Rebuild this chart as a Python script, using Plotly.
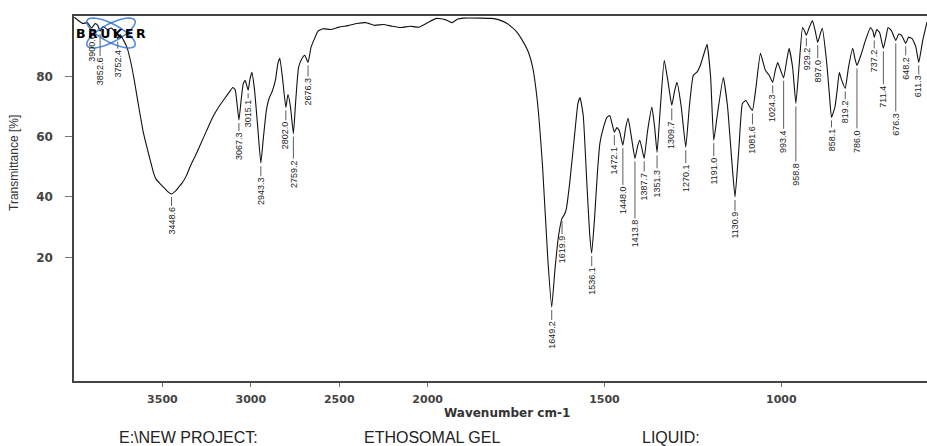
import numpy as np
import plotly.graph_objects as go

# ---------------- data ----------------
wavenumber = [3998, 3975, 3950, 3925, 3900.6, 3880, 3865, 3852.6, 3835, 3810, 3790, 3770, 3752.4, 3738, 3720,
              3700, 3680, 3660, 3640, 3610, 3590, 3570, 3550, 3537, 3515, 3490, 3470, 3448.6, 3425, 3405,
              3390, 3365, 3340, 3315, 3288, 3250, 3215, 3180, 3150, 3125, 3102, 3088, 3067.3, 3055, 3043,
              3032, 3015.1, 3005, 2994, 2980, 2962, 2943.3, 2930, 2912, 2895, 2881, 2860, 2848, 2836, 2820,
              2802.0, 2790, 2776, 2759.2, 2746, 2730, 2710, 2695, 2676.3, 2660, 2640, 2620, 2590, 2550,
              2500, 2450, 2400, 2350, 2300, 2250, 2200, 2150, 2100, 2050, 2000, 1975, 1950, 1932, 1915,
              1900, 1850, 1820, 1800, 1775, 1750, 1730, 1715, 1703, 1690, 1675, 1660, 1649.2, 1640, 1630,
              1619.9, 1614, 1608, 1598, 1585, 1575, 1569, 1560, 1550, 1542, 1536.1, 1528, 1520, 1513, 1503,
              1493, 1485, 1478, 1472.1, 1465, 1458, 1448.0, 1440, 1433, 1424, 1413.8, 1406, 1400, 1394,
              1387.7, 1378, 1366, 1358, 1351.3, 1343, 1331, 1320, 1309.7, 1302, 1295, 1283, 1270.1, 1260,
              1249, 1238, 1229, 1220, 1210, 1200, 1191.0, 1180, 1164, 1152, 1140, 1130.9, 1120, 1110, 1100,
              1090, 1081.6, 1072, 1059, 1045, 1035, 1024.3, 1017, 1010, 1002, 993.4, 985, 978, 968, 958.8,
              950, 940, 934, 929.2, 920, 912, 904, 897.0, 890, 884, 872, 864, 858.1, 848, 842, 836, 830,
              819.2, 810, 798, 792, 786.0, 775, 762, 748, 741, 737.2, 730, 722, 711.4, 704, 698, 688, 676.3,
              668, 660, 648.2, 640, 630, 620, 611.3, 600, 588]

transmittance = [99.6, 98.5, 97.5, 97.8, 96.0, 97.5, 96.8, 95.0, 96.5, 95.5, 96.0, 94.8, 92.5, 93.8, 92.0,
                 89.5, 85.0, 79.0, 72.0, 62.0, 57.0, 52.5, 48.0, 46.0, 44.5, 43.0, 41.8, 41.0, 42.0, 43.5,
                 44.5, 47.0, 50.5, 53.5, 57.0, 62.0, 66.5, 70.0, 72.5, 74.5, 76.3, 75.5, 65.5, 72.0, 77.5,
                 78.7, 75.4, 79.0, 81.3, 76.0, 64.0, 51.2, 59.0, 68.7, 73.0, 74.7, 79.0, 84.0, 86.0, 79.0,
                 69.7, 74.0, 70.0, 61.0, 72.0, 83.0, 86.0, 87.0, 84.6, 89.5, 92.5, 95.0, 95.8, 95.5,
                 96.3, 96.8, 97.5, 97.8, 96.9, 97.2, 96.6, 96.2, 96.6, 96.3, 97.8, 99.2, 98.8, 97.8, 99.0,
                 99.3, 99.3, 99.2, 98.8, 97.5, 95.0, 91.5, 88.0, 83.0, 72.0, 50.0, 19.0, 3.5, 16.0, 27.0,
                 33.0, 34.0, 36.0, 45.0, 60.0, 71.0, 73.0, 67.0, 45.0, 28.0, 21.4, 33.0, 48.0, 57.8, 63.0,
                 66.4, 67.0, 64.0, 61.5, 63.0, 62.0, 57.2, 63.0, 66.1, 60.0, 52.8, 57.0, 58.8, 56.0,
                 52.8, 62.0, 69.8, 63.0, 54.8, 68.0, 85.3, 78.0, 70.4, 75.0, 78.0, 70.0, 56.5, 70.0,
                 80.3, 81.5, 83.6, 87.0, 90.6, 80.0, 58.8, 68.0, 79.6, 70.0, 52.0, 40.0, 56.0, 71.0, 72.0,
                 70.0, 68.7, 76.0, 87.6, 82.0, 80.5, 78.0, 82.0, 84.6, 82.0, 79.5, 85.0, 89.3, 83.0, 71.0,
                 83.0, 96.2, 95.0, 93.6, 96.5, 98.5, 95.0, 91.3, 94.0, 95.9, 85.0, 74.0, 66.4, 70.0, 75.4, 81.3, 79.0,
                 76.0, 83.0, 89.3, 86.0, 83.6, 87.0, 91.9, 96.2, 95.0, 92.9, 95.5, 94.5, 89.3, 93.0, 96.2, 95.0, 91.9,
                 94.0, 93.6, 90.9, 93.0, 92.5, 90.0, 84.6, 92.0, 98.0]

peak_labels = [3900.6, 3852.6, 3752.4, 3448.6, 3067.3, 3015.1, 2943.3, 2802.0, 2759.2, 2676.3,
               1649.2, 1619.9, 1536.1, 1472.1, 1448.0, 1413.8, 1387.7, 1351.3, 1309.7, 1270.1,
               1191.0, 1130.9, 1081.6, 1024.3, 993.4, 958.8, 929.2, 897.0, 858.1, 819.2,
               786.0, 737.2, 711.4, 676.3, 648.2, 611.3]

x_tick_values = [3500, 3000, 2500, 2000, 1500, 1000]
x_tick_labels = ["3500", "3000", "2500", "2000", "1500", "1000"]
y_tick_values = [20, 40, 60, 80]
y_tick_labels = ["20", "40", "60", "80"]

footer_texts = ["E:\\NEW PROJECT:", "ETHOSOMAL GEL", "LIQUID:"]

# ---------------- layout helpers (positions / styles) ----------------
W, H = 927, 446
ML, MR, MT, MB = 74, 0, 16, 65
PW, PH = W - ML - MR, H - MT - MB
Y_RANGE = [-21, 100]
PX_T = (Y_RANGE[1] - Y_RANGE[0]) / PH  # data units per pixel

# distance (px) from dip to top of label text
label_gap_px = {3900.6: 7, 3852.6: 27, 3752.4: 12, 3448.6: 14, 3067.3: 13, 3015.1: 10, 2943.3: 15,
                2802.0: 15, 2759.2: 27, 2676.3: 16, 1649.2: 15, 1619.9: 18, 1536.1: 15, 1472.1: 15,
                1448.0: 42, 1413.8: 62, 1387.7: 15, 1351.3: 18, 1309.7: 17, 1270.1: 18, 1191.0: 18,
                1130.9: 16, 1081.6: 16, 1024.3: 13, 993.4: 53, 958.8: 60, 929.2: 13, 897.0: 18,
                858.1: 12, 819.2: 13, 786.0: 65, 737.2: 13, 711.4: 38, 676.3: 73, 648.2: 14, 611.3: 14}


def u(w):
    """OPUS-style axis: region above 2000 cm-1 compressed by a factor of 2."""
    w = np.asarray(w, dtype=float)
    return np.where(w > 2000, 2000 + (w - 2000) / 2.0, w)


wn = np.array(wavenumber, dtype=float)
tr = np.array(transmittance, dtype=float)
order = np.argsort(wn)

fig = go.Figure()
fig.add_trace(go.Scatter(x=u(wn), y=tr, mode="lines",
                         line=dict(color="#111111", width=1.1, shape="spline", smoothing=0.4),
                         hoverinfo="skip", showlegend=False))

# peak connector lines + labels
lx, ly = [], []
annotations = []
for p in peak_labels:
    t_dip = float(np.interp(p, wn[order], tr[order]))
    gap = label_gap_px[p]
    y0 = t_dip - 3 * PX_T
    y1 = t_dip - (gap - 2) * PX_T
    if gap > 8:
        lx += [float(u(p)), float(u(p)), None]
        ly += [y0, y1, None]
    annotations.append(dict(x=float(u(p)), y=t_dip, xref="x", yref="y", text=f"{p:.1f}",
                            textangle=-90, showarrow=False, xanchor="center", yanchor="top",
                            yshift=-gap + 2, borderpad=0,
                            font=dict(family="Liberation Sans Narrow, Liberation Sans, Arial", size=9,
                                      color="#222222")))
fig.add_trace(go.Scatter(x=lx, y=ly, mode="lines", line=dict(color="#333333", width=0.8),
                         hoverinfo="skip", showlegend=False))


def px_to_paper(px, py):
    return (px - ML) / PW, (H - MB - py) / PH


# axis title / y title / footer
ax_x, ax_y = px_to_paper(507, 413)
annotations.append(dict(x=ax_x, y=ax_y, xref="paper", yref="paper", text="Wavenumber cm-1",
                        showarrow=False, xanchor="center", yanchor="middle",
                        font=dict(family="DejaVu Sans", size=12, color="#333333", weight="bold")))
yt_x, yt_y = px_to_paper(14, 163)
annotations.append(dict(x=yt_x, y=yt_y, xref="paper", yref="paper", text="Transmittance [%]",
                        textangle=-90, showarrow=False, xanchor="center", yanchor="middle",
                        font=dict(family="Liberation Sans", size=12, color="#333333")))
footer_px = [117, 362, 640]
for txt, fx in zip(footer_texts, footer_px):
    px, py = px_to_paper(fx, 438)
    annotations.append(dict(x=px, y=py, xref="paper", yref="paper", text=txt, showarrow=False,
                            xanchor="left", yanchor="middle",
                            font=dict(family="Liberation Sans", size=16, color="#222222")))

# Bruker logo
lg_x, lg_y = px_to_paper(111, 33)
annotations.append(dict(x=lg_x, y=lg_y, xref="paper", yref="paper",
                        text="B\u2009R\u2009U\u2009K\u2009E\u2009R", showarrow=False,
                        xanchor="center", yanchor="middle",
                        font=dict(family="DejaVu Sans", size=12.5, color="#000000", weight="bold")))
shapes = []
for ang in (28, -28):
    th = np.linspace(0, 2 * np.pi, 60)
    a, b = 27, 9
    r = np.deg2rad(ang)
    ex = 111 + a * np.cos(th) * np.cos(r) - b * np.sin(th) * np.sin(r)
    ey = 33 + a * np.cos(th) * np.sin(r) + b * np.sin(th) * np.cos(r)
    pts = [px_to_paper(x_, y_) for x_, y_ in zip(ex, ey)]
    path = "M " + " L ".join(f"{x_:.5f},{y_:.5f}" for x_, y_ in pts) + " Z"
    shapes.append(dict(type="path", path=path, xref="paper", yref="paper",
                       line=dict(color="rgba(40,110,210,0.8)", width=1.6), layer="above"))

fig.update_layout(
    width=W, height=H, autosize=False,
    margin=dict(l=ML, r=MR, t=MT, b=MB, pad=0),
    paper_bgcolor="white", plot_bgcolor="white",
    annotations=annotations, shapes=shapes,
    xaxis=dict(range=[float(u(4000)), float(u(588))], tickvals=u(x_tick_values).tolist(),
               ticktext=x_tick_labels, ticks="outside", ticklen=4, tickcolor="#777777",
               ticklabelstandoff=3,
               showline=True, linecolor="#444444", linewidth=1.5, mirror=True,
               showgrid=False, zeroline=False,
               tickfont=dict(family="DejaVu Sans", size=11, color="#444444", weight="bold")),
    yaxis=dict(range=Y_RANGE, tickvals=y_tick_values, ticktext=y_tick_labels,
               ticks="outside", ticklen=7, tickcolor="#777777", ticklabelstandoff=10,
               showline=True, linecolor="#444444", linewidth=1.5,
               showgrid=False, zeroline=False,
               tickfont=dict(family="DejaVu Sans", size=12, color="#444444", weight="bold")),
)

fig.write_html("out.html")
